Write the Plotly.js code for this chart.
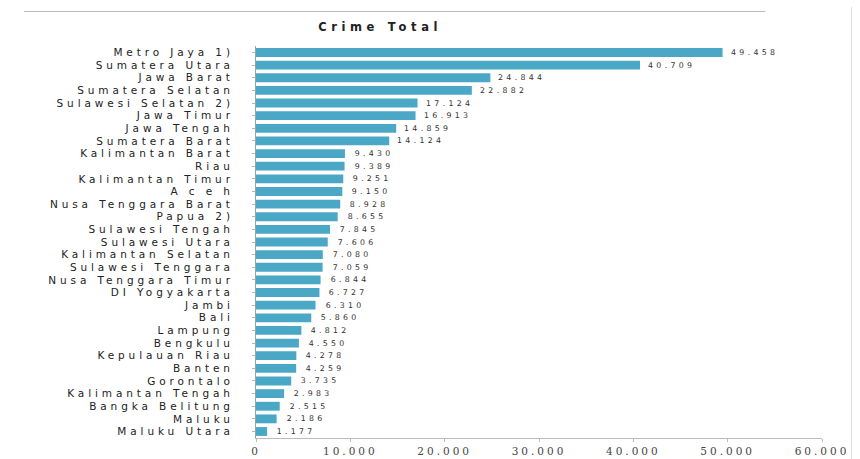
<!DOCTYPE html>
<html><head><meta charset="utf-8">
<script src="https://cdn.plot.ly/plotly-3.0.1.min.js"></script>
<style>
html,body{margin:0;padding:0;background:#fff}#c{width:860px;height:459px}
#c .ytick text{letter-spacing:3.9px}
#c .xtick text{letter-spacing:3px}
#c .gtitle{letter-spacing:4.6px}
#c .annotation-text{letter-spacing:3.3px}
</style>
</head><body><div id="c"></div>
<script>
const provinces = ["Metro Jaya 1)","Sumatera Utara","Jawa Barat","Sumatera Selatan","Sulawesi Selatan 2)","Jawa Timur","Jawa Tengah","Sumatera Barat","Kalimantan Barat","Riau","Kalimantan Timur","A c e h","Nusa Tenggara Barat","Papua 2)","Sulawesi Tengah","Sulawesi Utara","Kalimantan Selatan","Sulawesi Tenggara","Nusa Tenggara Timur","DI Yogyakarta","Jambi","Bali","Lampung","Bengkulu","Kepulauan Riau","Banten","Gorontalo","Kalimantan Tengah","Bangka Belitung","Maluku","Maluku Utara"];
const crimeTotal = [49458,40709,24844,22882,17124,16913,14859,14124,9430,9389,9251,9150,8928,8655,7845,7606,7080,7059,6844,6727,6310,5860,4812,4550,4278,4259,3735,2983,2515,2186,1177];
const xTicks = [0,10000,20000,30000,40000,50000,60000];

const fmt = v => String(v).replace(/\B(?=(\d{3})+(?!\d))/g, '.');

const trace = {
  type:'bar', orientation:'h',
  y: provinces, x: crimeTotal,
  marker:{color:'#4aa8c6', line:{width:0}},
  hoverinfo:'none'
};
const valueLabels = provinces.map((p,i)=>({
  x: crimeTotal[i], y: p, xref:'x', yref:'y', text: fmt(crimeTotal[i]),
  showarrow:false, xanchor:'left', yanchor:'middle', xshift:16,
  font:{family:'DejaVu Sans', size:7.8, color:'#333'}
}));
const layout = {
  width:860, height:459,
  margin:{l:256, r:38, t:46, b:21},
  separators:',.',
  paper_bgcolor:'#fff', plot_bgcolor:'#fff',
  showlegend:false,
  bargap:0.3,
  title:{text:'<b>Crime Total</b>', x:0.442, xanchor:'center', y:0.941, yanchor:'middle',
    font:{family:'DejaVu Sans', size:11.5, color:'#222'}},
  xaxis:{range:[0,60000], tickvals:xTicks, tickformat:',', showgrid:false, zeroline:false,
    showline:true, linecolor:'#bbb', linewidth:1, ticks:'outside', ticklen:3, tickcolor:'#bbb',
    tickfont:{family:'DejaVu Serif', size:10.5, color:'#444'}},
  yaxis:{autorange:'reversed', tickmode:'array', tickvals:provinces, ticktext:provinces,
    showgrid:false, showline:true, linecolor:'#8aa', linewidth:1,
    ticks:'outside', ticklen:3, tickcolor:'#e0a0b0', ticklabelstandoff:16,
    tickfont:{family:'DejaVu Sans', size:10.5, color:'#222'}},
  annotations: valueLabels,
  shapes:[
    {type:'line', xref:'paper', yref:'paper', x0:-0.41, x1:0.9, y0:1.088, y1:1.088, line:{color:'#bbb', width:1}},
    {type:'line', xref:'paper', yref:'paper', x0:1.052, x1:1.052, y0:-0.1, y1:1.1, line:{color:'#ddd', width:1}}
  ]
};
Plotly.newPlot('c',[trace],layout,{displayModeBar:false,staticPlot:true});
</script></body></html>
